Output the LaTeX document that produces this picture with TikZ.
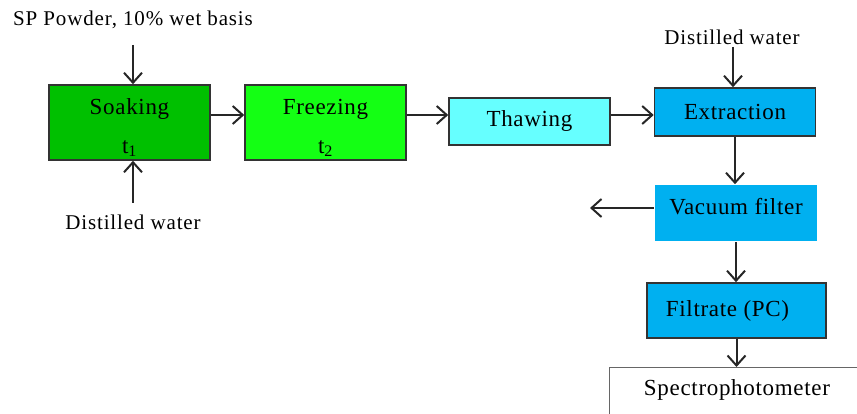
\documentclass[tikz,border=0pt]{standalone}
\usepackage{fontspec}
\setmainfont{Liberation Serif}
\usetikzlibrary{arrows.meta}
\definecolor{dkgreen}{RGB}{0,192,0}
\definecolor{ltgreen}{RGB}{20,255,20}
\definecolor{cyanl}{RGB}{102,255,255}
\definecolor{blueb}{RGB}{0,176,240}
\begin{document}
\begin{tikzpicture}[x=1pt,y=-1pt,
  box/.style={draw=black!80,line width=1.6pt,inner sep=0pt,font=\fontsize{23}{27}\selectfont\addfontfeatures{LetterSpace=3}},
  arr/.style={draw=black!85,line width=2pt,-{Straight Barb[length=10pt,width=18pt,line width=2pt]}},
  lbl/.style={font=\fontsize{21}{24}\selectfont\addfontfeatures{LetterSpace=4},inner sep=0pt}]
\useasboundingbox (0,0) rectangle (857,414);
\clip (0,0) rectangle (857,414);
\node[box,fill=dkgreen,minimum width=161pt,minimum height=75pt,align=center] (soak) at (129.5,122.5) {\rule{0pt}{26pt}Soaking\\[12pt]t\textsubscript{1}};
\node[box,fill=ltgreen,minimum width=161pt,minimum height=75pt,align=center] (freeze) at (325.5,122.5) {\rule{0pt}{26pt}Freezing\\[12pt]t\textsubscript{2}};
\node[box,fill=cyanl,minimum width=161pt,minimum height=47pt] (thaw) at (529.5,121.5) {Thawing};
\node[box,fill=blueb,minimum width=161pt,minimum height=48pt] (extr) at (735,112) {Extraction};
\node[box,draw=none,fill=blueb,minimum width=162pt,minimum height=56pt,text height=16pt,text depth=12pt] (vac) at (736,213) {Vacuum filter};
\node[box,fill=blueb,minimum width=179pt,minimum height=55pt] (filt) at (736.5,310.5) {Filtrate (PC)\hspace*{18pt}};
\node[box,draw=none] (spec) at (737,390) {Spectrophotometer};
\draw[draw=black!60,line width=0.8pt] (870,367) -| (609,430);
\node[lbl] (sp) at (133,20) {SP Powder, 10\% wet basis};
\node[lbl] (dwa) at (133,222) {Distilled water};
\node[lbl] (dwb) at (732,37) {Distilled water};
\coordinate (sp1) at (133,45);
\coordinate (dw1) at (133,203);
\coordinate (dw2) at (733,47);
\coordinate (r) at (0,115);
\coordinate (out) at (590,208);
\coordinate (st) at (0,367);
\draw[arr] (sp1) -- (sp1 |- soak.north);
\draw[arr] (dw1) -- (dw1 |- soak.south);
\draw[arr] (soak.east |- r) -- (freeze.west |- r);
\draw[arr] (freeze.east |- r) -- (thaw.west |- r);
\draw[arr] (thaw.east |- r) -- (extr.west |- r);
\draw[arr] (dw2) -- (dw2 |- extr.north);
\draw[arr] (extr.south) -- (extr.south |- vac.north);
\draw[arr] (vac.west |- out) -- (out);
\draw[arr] (vac.south) -- (vac.south |- filt.north);
\draw[arr] (filt.south) -- (filt.south |- st);
\end{tikzpicture}
\end{document}
